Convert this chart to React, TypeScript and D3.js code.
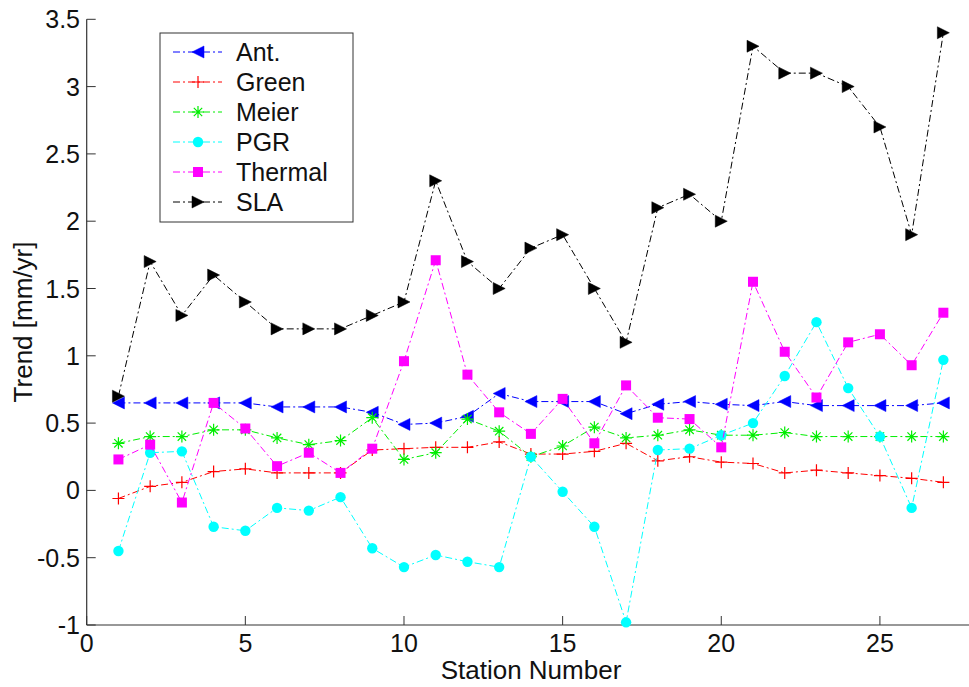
import React from "react";
import * as d3 from "d3";

const stations = d3.range(1, 28);
const ant = [0.65,0.65,0.65,0.65,0.65,0.62,0.62,0.62,0.58,0.49,0.50,0.55,0.72,0.66,0.66,0.66,0.57,0.64,0.66,0.64,0.63,0.66,0.63,0.63,0.63,0.63,0.65];
const green = [-0.06,0.03,0.06,0.14,0.16,0.13,0.13,0.13,0.30,0.31,0.32,0.32,0.36,0.27,0.27,0.29,0.35,0.22,0.25,0.21,0.20,0.13,0.15,0.13,0.11,0.09,0.06];
const meier = [0.35,0.40,0.40,0.45,0.45,0.39,0.34,0.37,0.54,0.23,0.28,0.53,0.44,0.25,0.33,0.47,0.39,0.41,0.45,0.41,0.41,0.43,0.40,0.40,0.40,0.40,0.40];
const pgr = [-0.45,0.28,0.29,-0.27,-0.30,-0.13,-0.15,-0.05,-0.43,-0.57,-0.48,-0.53,-0.57,0.25,-0.01,-0.27,-0.98,0.30,0.31,0.41,0.50,0.85,1.25,0.76,0.40,-0.13,0.97];
const thermal = [0.23,0.34,-0.09,0.65,0.46,0.18,0.28,0.13,0.31,0.96,1.71,0.86,0.58,0.42,0.68,0.35,0.78,0.54,0.53,0.32,1.55,1.03,0.69,1.10,1.16,0.93,1.32];
const sla = [0.7,1.7,1.3,1.6,1.4,1.2,1.2,1.2,1.3,1.4,2.3,1.7,1.5,1.8,1.9,1.5,1.1,2.1,2.2,2.0,3.3,3.1,3.1,3.0,2.7,1.9,3.4];

const seriesNames = ["Ant.", "Green", "Meier", "PGR", "Thermal", "SLA"];
const seriesColors = ["#0000ff", "#ff0000", "#00ee00", "#00ffff", "#ff00ff", "#000000"];
const seriesMarkers = ["tri-left", "plus", "star", "circle", "square", "tri-right"];
const seriesValues = [ant, green, meier, pgr, thermal, sla];

const xTicks = [0, 5, 10, 15, 20, 25];
const yTicks = [-1, -0.5, 0, 0.5, 1, 1.5, 2, 2.5, 3, 3.5];

const W = 969, H = 687;
const FONT = "'Liberation Sans', Arial, Helvetica, sans-serif";

function Marker({ type, x, y, color }: { type: string; x: number; y: number; color: string }) {
  const s = 6;
  switch (type) {
    case "tri-left":
      return <path d={`M${x - s},${y} L${x + s},${y - s} L${x + s},${y + s} Z`} fill={color} stroke={color} strokeWidth={0.5} />;
    case "tri-right":
      return <path d={`M${x + s},${y} L${x - s},${y - s} L${x - s},${y + s} Z`} fill={color} stroke={color} strokeWidth={0.5} />;
    case "plus":
      return <path d={`M${x - s},${y} H${x + s} M${x},${y - s} V${y + s}`} stroke={color} strokeWidth={1.2} fill="none" />;
    case "star": {
      const t = 4.2;
      return <path d={`M${x - s},${y} H${x + s} M${x},${y - s} V${y + s} M${x - t},${y - t} L${x + t},${y + t} M${x - t},${y + t} L${x + t},${y - t}`} stroke={color} strokeWidth={1.2} fill="none" />;
    }
    case "circle":
      return <circle cx={x} cy={y} r={5.2} fill={color} />;
    case "square":
      return <rect x={x - 5} y={y - 5} width={10} height={10} fill={color} />;
  }
  return null;
}

export default function App() {
  const x = d3.scaleLinear().domain([0, 28]).range([86.7, 975.1]);
  const y = d3.scaleLinear().domain([-1, 3.5]).range([625, 19.3]);
  const line = d3.line<[number, number]>().x((d) => x(d[0])).y((d) => y(d[1]));
  const dash = "7,3,2,3";
  const axisColor = "#333";

  const legX = 160, legY = 33, legW = 193, legH = 189;

  return (
    <svg width={W} height={H} style={{ position: "absolute", left: 0, top: 0, background: "#fff" }}>
      <rect x={0} y={0} width={W} height={H} fill="#fff" />
      {/* axes */}
      <line x1={x(0)} x2={x(28)} y1={y(-1)} y2={y(-1)} stroke={axisColor} strokeWidth={1.2} />
      <line x1={x(0)} x2={x(0)} y1={y(-1)} y2={y(3.5)} stroke={axisColor} strokeWidth={1.2} />
      {xTicks.map((t) => (
        <g key={"xt" + t}>
          <line x1={x(t)} x2={x(t)} y1={y(-1)} y2={y(-1) - 9} stroke={axisColor} strokeWidth={1} />
          <text x={x(t)} y={652} textAnchor="middle" fontFamily={FONT} fontSize={25} fill="#111">{String(t)}</text>
        </g>
      ))}
      {yTicks.map((t) => (
        <g key={"yt" + t}>
          <line x1={x(0)} x2={x(0) + 9} y1={y(t)} y2={y(t)} stroke={axisColor} strokeWidth={1} />
          <text x={80} y={y(t) + 9} textAnchor="end" fontFamily={FONT} fontSize={25} fill="#111">{String(t)}</text>
        </g>
      ))}
      <text x={531} y={679} textAnchor="middle" fontFamily={FONT} fontSize={26} fill="#111">Station Number</text>
      <text transform={`translate(32,${322}) rotate(-90)`} textAnchor="middle" fontFamily={FONT} fontSize={26} fill="#111">Trend [mm/yr]</text>

      {/* series */}
      {seriesValues.map((vals, si) => {
        const pts: [number, number][] = vals.map((v, i) => [stations[i], v]);
        return (
          <g key={"s" + si}>
            <path d={line(pts) || ""} fill="none" stroke={seriesColors[si]} strokeWidth={1} strokeDasharray={dash} />
            {pts.map((p, i) => (
              <Marker key={i} type={seriesMarkers[si]} x={x(p[0])} y={y(p[1])} color={seriesColors[si]} />
            ))}
          </g>
        );
      })}

      {/* legend */}
      <rect x={legX} y={legY} width={legW} height={legH} fill="#fff" stroke="#333" strokeWidth={1} />
      {seriesNames.map((name, i) => {
        const cy = 52 + i * 30;
        return (
          <g key={"l" + i}>
            <line x1={173} x2={222} y1={cy} y2={cy} stroke={seriesColors[i]} strokeWidth={1} strokeDasharray={dash} />
            <Marker type={seriesMarkers[i]} x={198} y={cy} color={seriesColors[i]} />
            <text x={236} y={cy + 9} fontFamily={FONT} fontSize={25} fill="#111">{name}</text>
          </g>
        );
      })}
    </svg>
  );
}
